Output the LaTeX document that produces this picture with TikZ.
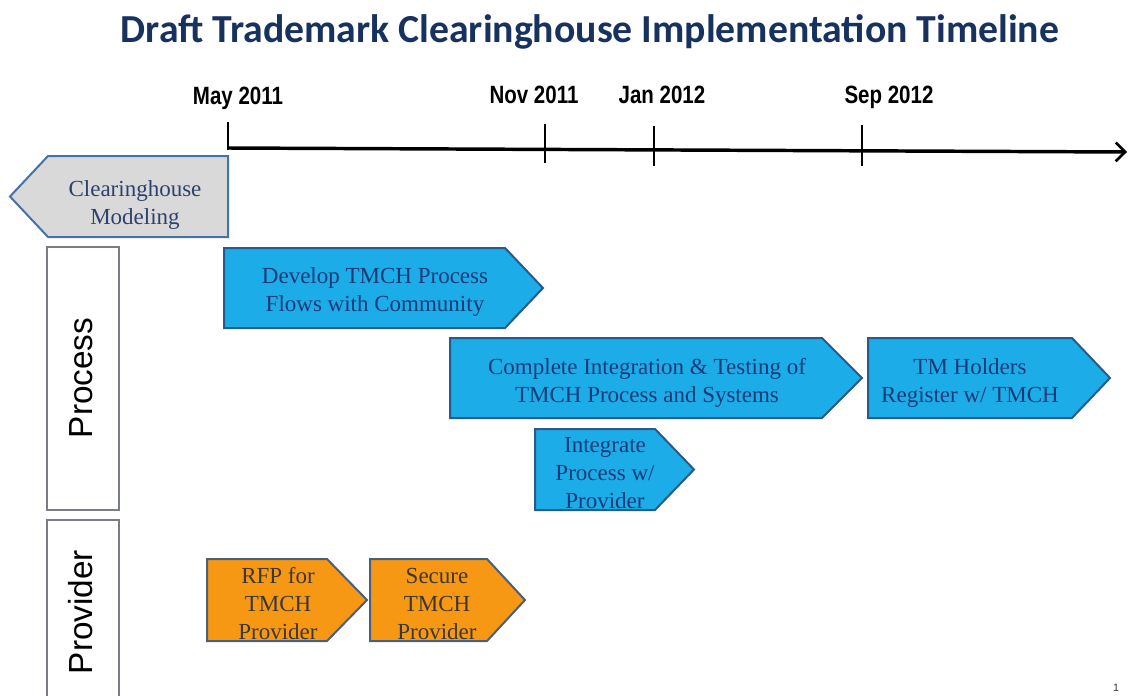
\documentclass[tikz,border=0pt]{standalone}
\usepackage{fontspec}
\setmainfont{Liberation Serif}
\newfontfamily\titlefont{Carlito}
\newfontfamily\datefont[FakeStretch=0.82]{Liberation Sans}
\newfontfamily\lanefont{Liberation Sans}
\usetikzlibrary{arrows.meta}
\definecolor{titlenavy}{RGB}{24,50,95}
\definecolor{bluefill}{RGB}{28,172,232}
\definecolor{blueedge}{RGB}{40,90,140}
\definecolor{bluetext}{RGB}{25,58,120}
\definecolor{orangefill}{RGB}{247,152,20}
\definecolor{orangeedge}{RGB}{75,95,125}
\definecolor{orangetext}{RGB}{60,55,50}
\definecolor{grayfill}{RGB}{217,217,217}
\definecolor{grayedge}{RGB}{70,115,165}
\definecolor{graytext}{RGB}{45,65,110}
\definecolor{laneedge}{RGB}{120,125,135}
\tikzset{
  bluebox/.style={fill=bluefill, draw=blueedge, line width=1.5pt, line join=miter},
  orangebox/.style={fill=orangefill, draw=orangeedge, line width=1.5pt, line join=miter},
  graybox/.style={fill=grayfill, draw=grayedge, line width=1.5pt, line join=miter},
  boxtext/.style={align=center, inner sep=0pt, font=\fontsize{17.25pt}{21pt}\selectfont},
  datelabel/.style={inner sep=0pt, anchor=base, font=\datefont\bfseries\fontsize{18.75pt}{20pt}\selectfont},
  lanebox/.style={draw=laneedge, line width=0.8pt, fill=white},
  lanelabel/.style={rotate=90, inner sep=0pt, font=\lanefont\fontsize{25pt}{28pt}\selectfont},
  axisline/.style={line width=2.6pt},
  tickline/.style={line width=1.5pt}
}
\newcommand\tmchRight[6]{% style, x1, y1, x2, y2, depth
  \path[#1] (#2,#3) -- ({#4-#6},#3) -- (#4,{(#3+#5)/2}) -- ({#4-#6},#5) -- (#2,#5) -- cycle;}
\begin{document}
\begin{tikzpicture}[x=0.75pt,y=-0.75pt]
\useasboundingbox[fill=white] (0,0) rectangle (1128,696);

% title
\node[text=titlenavy, inner sep=0pt, anchor=base, font=\titlefont\bfseries\fontsize{29.8pt}{32pt}\selectfont] (title) at (590,42) {Draft Trademark Clearinghouse Implementation Timeline};

% timeline
\coordinate (t0) at (228,148);
\coordinate (tend) at (1127,152);
\draw[axisline, -{Straight Barb[length=7pt,width=14pt,line width=2pt]}] (t0) -- (tend);
\draw[tickline] (228,122) -- (228,150);
\draw[tickline] (545,124) -- (545,163);
\draw[tickline] (654,126) -- (654,166);
\draw[tickline] (862,125) -- (862,166);
\node[datelabel] (lMay) at (238,104) {May 2011};
\node[datelabel] (lNov) at (534,103) {Nov 2011};
\node[datelabel] (lJan) at (662,103) {Jan 2012};
\node[datelabel] (lSep) at (889,103) {Sep 2012};

% clearinghouse modeling (left pointing)
\path[graybox] (228,156) -- (228,237) -- (48,237) -- (10,196.5) -- (48,156) -- cycle;
\node[boxtext, text=graytext] (model) at (135,205) {Clearinghouse\\Modeling};

% lanes
\draw[lanebox] (47,247) rectangle (119,510);
\node[lanelabel] (process) at (81,378) {Process};
\draw[lanebox] (47,520) rectangle (119,700);
\node[lanelabel] (provider) at (81,612) {Provider};

% process boxes
\tmchRight{bluebox}{224}{248}{543}{328}{38}
\node[boxtext, text=bluetext] (develop) at (375,292) {Develop TMCH Process\\Flows with Community};

\tmchRight{bluebox}{450}{338}{862}{418}{40}
\node[boxtext, text=bluetext] (complete) at (647,383) {Complete Integration \& Testing of\\TMCH Process and Systems};

\tmchRight{bluebox}{868}{338}{1110}{418}{38}
\node[boxtext, text=bluetext] (holders) at (970,383) {TM Holders\\Register w/ TMCH};

\tmchRight{bluebox}{535}{429}{694}{510}{39}
\node[boxtext, text=bluetext] (integrate) at (605,473) {Integrate\\Process w/\\Provider};

% provider boxes
\tmchRight{orangebox}{207}{559}{367}{641}{40}
\node[boxtext, text=orangetext] (rfp) at (278,604) {RFP for\\TMCH\\Provider};

\tmchRight{orangebox}{370}{559}{525}{641}{38}
\node[boxtext, text=orangetext] (secure) at (437,604) {Secure\\TMCH\\Provider};

% page number
\node[inner sep=0pt, text=black!80, font=\lanefont\fontsize{8pt}{9pt}\selectfont] (pagenum) at (1116,688) {1};
\end{tikzpicture}
\end{document}
